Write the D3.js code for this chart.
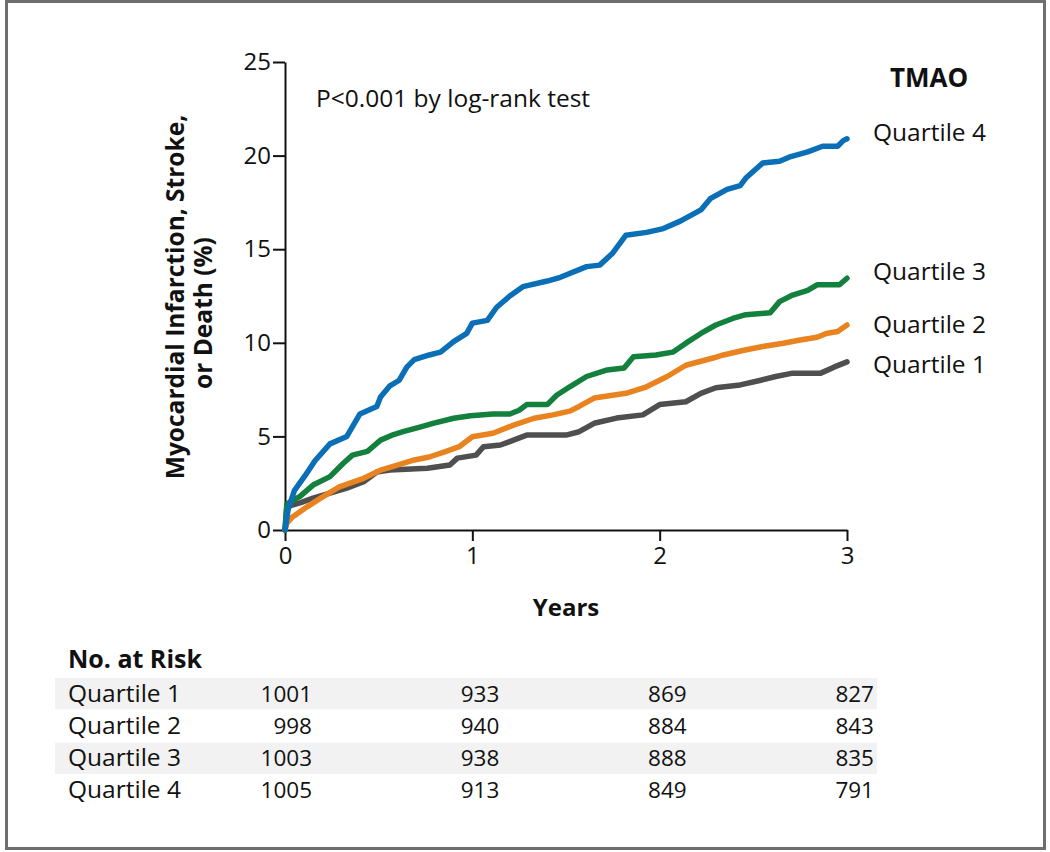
<!DOCTYPE html>
<html><head><meta charset="utf-8">
<script src="https://cdn.jsdelivr.net/npm/d3@7"></script>
<style>
html,body{margin:0;padding:0;background:#fff;}
svg text{font-family:"Open Sans",Lato,sans-serif;fill:#111;}
</style></head>
<body><svg id="chart" width="1050" height="852"></svg>
<script>
// ---- data (years, cumulative %) ----
const quartile1 = [[0,0],[0.01,1.25],[0.08,1.45],[0.15,1.7],[0.24,1.97],[0.33,2.24],[0.42,2.58],[0.49,3.1],[0.56,3.2],[0.76,3.3],[0.88,3.47],[0.92,3.84],[1.02,4.0],[1.06,4.45],[1.15,4.54],[1.22,4.8],[1.29,5.07],[1.50,5.07],[1.57,5.25],[1.65,5.7],[1.77,5.98],[1.91,6.15],[2.0,6.7],[2.14,6.85],[2.22,7.3],[2.30,7.6],[2.43,7.75],[2.54,8.0],[2.62,8.2],[2.71,8.38],[2.86,8.38],[2.93,8.7],[3.0,8.98]];
const quartile2 = [[0,0],[0.01,0.37],[0.04,0.7],[0.12,1.25],[0.19,1.7],[0.29,2.3],[0.42,2.76],[0.51,3.2],[0.60,3.47],[0.69,3.74],[0.77,3.9],[0.86,4.2],[0.93,4.45],[1.0,4.98],[1.11,5.17],[1.22,5.6],[1.33,5.97],[1.43,6.15],[1.52,6.35],[1.57,6.6],[1.65,7.05],[1.82,7.3],[1.93,7.65],[2.04,8.2],[2.14,8.8],[2.29,9.2],[2.34,9.35],[2.45,9.6],[2.55,9.8],[2.66,9.98],[2.75,10.15],[2.84,10.3],[2.89,10.5],[2.95,10.6],[3.0,10.95]];
const quartile3 = [[0,0],[0.01,1.4],[0.08,1.8],[0.15,2.4],[0.24,2.85],[0.31,3.55],[0.36,4.0],[0.44,4.2],[0.51,4.8],[0.58,5.1],[0.63,5.25],[0.72,5.5],[0.79,5.7],[0.90,5.97],[0.99,6.1],[1.11,6.2],[1.2,6.2],[1.25,6.4],[1.29,6.7],[1.40,6.7],[1.45,7.2],[1.52,7.65],[1.61,8.2],[1.72,8.55],[1.81,8.65],[1.86,9.26],[1.98,9.35],[2.07,9.5],[2.14,9.98],[2.22,10.5],[2.30,10.95],[2.39,11.3],[2.46,11.5],[2.59,11.6],[2.64,12.2],[2.71,12.55],[2.79,12.8],[2.84,13.1],[2.96,13.1],[3.0,13.45]];
const quartile4 = [[0,0],[0.016,1.07],[0.05,2.1],[0.107,2.9],[0.16,3.7],[0.24,4.6],[0.33,5.0],[0.40,6.2],[0.49,6.6],[0.51,7.1],[0.56,7.7],[0.61,8.0],[0.65,8.7],[0.69,9.1],[0.77,9.35],[0.83,9.5],[0.90,10.06],[0.97,10.5],[1.0,11.05],[1.08,11.2],[1.13,11.9],[1.2,12.5],[1.27,13.0],[1.40,13.3],[1.47,13.5],[1.61,14.07],[1.68,14.15],[1.75,14.8],[1.82,15.75],[1.93,15.9],[2.02,16.1],[2.11,16.5],[2.22,17.1],[2.27,17.7],[2.36,18.2],[2.43,18.4],[2.46,18.8],[2.55,19.6],[2.64,19.7],[2.70,19.95],[2.79,20.2],[2.87,20.5],[2.95,20.5],[2.98,20.8],[3.0,20.9]];
const seriesNames = ["Quartile 1","Quartile 2","Quartile 3","Quartile 4"];
const seriesColors = ["#4f4f4f","#e8831f","#13803d","#0a6fb7"];
const xTicks = [0,1,2,3];
const yTicks = [0,5,10,15,20,25];
const riskTimes = [0,1,2,3];
const riskQ1 = [1001,933,869,827];
const riskQ2 = [998,940,884,843];
const riskQ3 = [1003,938,888,835];
const riskQ4 = [1005,913,849,791];

const svg = d3.select("#chart");
// frame
svg.append("rect").attr("x",6.5).attr("y",1.5).attr("width",1038).attr("height",847)
  .attr("fill","none").attr("stroke","#6e6e6e").attr("stroke-width",3);

const x = d3.scaleLinear().domain([0,3]).range([285,847]);
const y = d3.scaleLinear().domain([0,25]).range([530,62]);

// axes
const gx = svg.append("g").attr("transform","translate(0,530)")
  .call(d3.axisBottom(x).tickValues(xTicks).tickSize(11).tickSizeOuter(0).tickPadding(6).tickFormat(d3.format("d")));
const gy = svg.append("g").attr("transform","translate(285,0)")
  .call(d3.axisLeft(y).tickValues(yTicks).tickSize(12).tickSizeOuter(0).tickPadding(2).tickFormat(d3.format("d")));
[gx,gy].forEach(g=>{
  g.select(".domain").attr("stroke","#111").attr("stroke-width",2);
  g.selectAll(".tick line").attr("stroke","#111").attr("stroke-width",2);
  g.selectAll(".tick text").attr("font-size",24).attr("font-family","Open Sans").attr("fill","#111");
});
gx.selectAll(".tick text").attr("dy","0.71em");

// curves
const line = d3.line().x(d=>x(d[0])).y(d=>y(d[1])).curve(d3.curveLinear);
const allSeries = [quartile1,quartile2,quartile3,quartile4];
allSeries.forEach((s,i)=>{
  svg.append("path").attr("d",line(s)).attr("fill","none")
    .attr("stroke",seriesColors[i]).attr("stroke-width",5.5)
    .attr("stroke-linejoin","round").attr("stroke-linecap","round");
});

// labels
svg.append("text").attr("x",316).attr("y",107).attr("font-size",24.5).text("P<0.001 by log-rank test");
svg.append("text").attr("x",929).attr("y",87).attr("font-size",26).attr("font-weight","bold").attr("text-anchor","middle").text("TMAO");
const labelY = [373,333,280,141];
seriesNames.forEach((n,i)=>{
  svg.append("text").attr("x",873).attr("y",labelY[i]).attr("font-size",24.5).text(n);
});
svg.append("text").attr("x",566).attr("y",616).attr("font-size",24).attr("font-weight","bold").attr("text-anchor","middle").text("Years");
svg.append("text").attr("transform","translate(174,297) rotate(-90)").attr("text-anchor","middle")
  .attr("dominant-baseline","central").attr("font-size",24.5).attr("font-weight","bold").text("Myocardial Infarction, Stroke,");
svg.append("text").attr("transform","translate(202,313) rotate(-90)").attr("text-anchor","middle")
  .attr("dominant-baseline","central").attr("font-size",24.5).attr("font-weight","bold").text("or Death (%)");

// risk table
svg.append("text").attr("x",68).attr("y",668).attr("font-size",25).attr("font-weight","bold").text("No. at Risk");
const riskRows = [riskQ1,riskQ2,riskQ3,riskQ4];
const rowTop = 678, rowH = 32.3;
riskRows.forEach((r,i)=>{
  if(i%2===0){
    svg.append("rect").attr("x",55).attr("y",rowTop+i*rowH).attr("width",822).attr("height",rowH-1).attr("fill","#f2f2f2");
  }
  const base = rowTop + i*rowH + 23.5;
  svg.append("text").attr("x",68).attr("y",base).attr("font-size",24.5).text(seriesNames[i]);
  r.forEach((v,j)=>{
    svg.append("text").attr("x",x(riskTimes[j])+27).attr("y",base).attr("font-size",22.5).attr("text-anchor","end").text(v);
  });
});
</script></body></html>
